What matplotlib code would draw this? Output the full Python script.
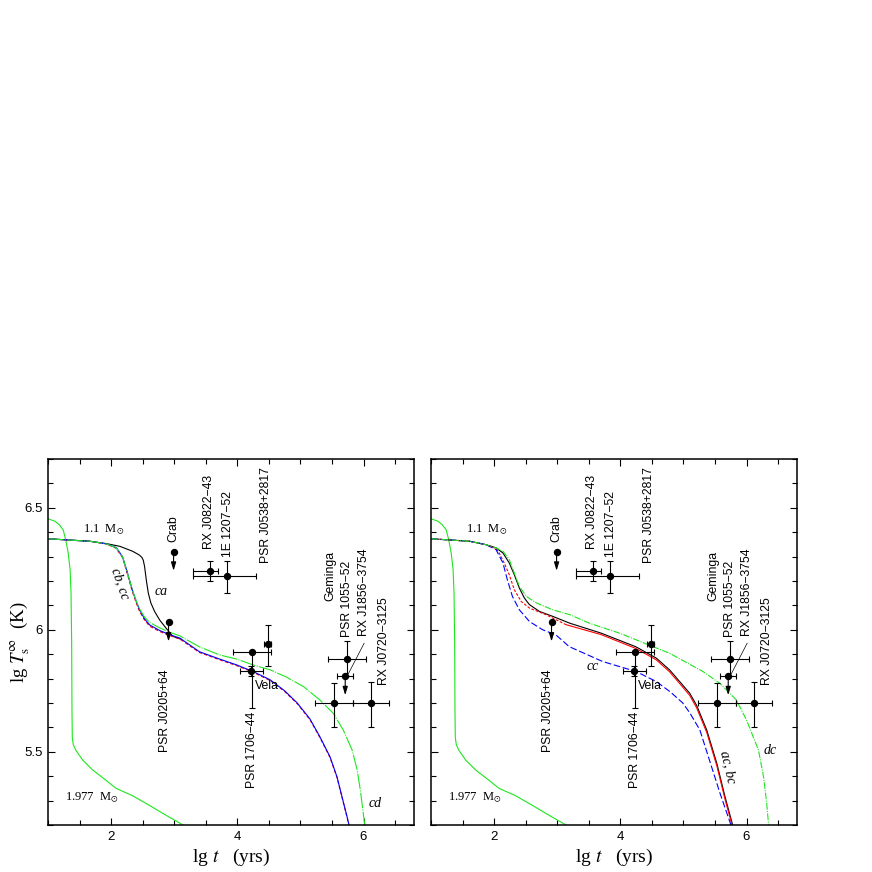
#!/usr/bin/env python3
"""Neutron star cooling curves vs observed sources, two panels."""

import matplotlib

matplotlib.use("Agg")
import matplotlib.pyplot as plt
from matplotlib.ticker import FixedLocator, MultipleLocator

plt.rcParams["font.family"] = ["Liberation Sans", "DejaVu Sans"]
plt.rcParams["mathtext.fontset"] = "stix"

# observed sources (lg t in yr, lg Ts in K)
src_names = ["PSR J0205+64", "Crab", "RX J0822\u221243", "1E 1207\u221252",
             "PSR J0538+2817", "PSR 1706\u221244", "Vela", "Geminga",
             "PSR 1055\u221252", "RX J1856\u22123754", "RX J0720\u22123125"]
src_lgt = [2.91, 2.99, 3.56, 3.84, 4.48, 4.24, 4.22, 5.53, 5.74, 5.71, 6.12]
src_lgT = [6.03, 6.32, 6.24, 6.22, 5.94, 5.91, 5.83, 5.70, 5.88, 5.81, 5.70]
src_t_lo = [0.0, 0.0, 0.27, 0.54, 0.05, 0.31, 0.18, 0.30, 0.30, 0.13, 0.29]
src_t_hi = [0.0, 0.0, 0.13, 0.46, 0.05, 0.30, 0.18, 0.30, 0.30, 0.12, 0.29]
src_T_lo = [0.0, 0.0, 0.04, 0.07, 0.09, 0.23, 0.02, 0.10, 0.07, 0.0, 0.10]
src_T_hi = [0.0, 0.0, 0.04, 0.06, 0.08, 0.0, 0.02, 0.08, 0.075, 0.0, 0.085]
src_upper = [True, True, False, False, False, False, False, False, False, True, False]

# 1.977 Msun model (same in both panels)
heavy_lgt = [1.0, 1.11, 1.18, 1.24, 1.28, 1.32, 1.35, 1.365, 1.375, 1.38,
             1.385, 1.40, 1.44, 1.55, 1.71, 1.92, 2.08, 2.34, 2.61, 2.87,
             3.14, 3.3]
heavy_lgT = [6.455, 6.445, 6.43, 6.41, 6.37, 6.315, 6.247, 6.15, 5.946, 5.67,
             5.56, 5.53, 5.507, 5.466, 5.425, 5.383, 5.35, 5.32, 5.28, 5.24,
             5.20, 5.175]

# left panel, 1.1 Msun models
ca_lgt = [1.0, 1.39, 1.66, 1.95, 2.14, 2.34, 2.45, 2.49, 2.51, 2.53, 2.56,
          2.59, 2.63, 2.69, 2.77, 2.87, 2.98, 3.1]
ca_lgT = [6.373, 6.367, 6.363, 6.352, 6.342, 6.322, 6.306, 6.296, 6.285,
          6.26, 6.20, 6.15, 6.11, 6.075, 6.04, 6.007, 5.973, 5.962]

cb_lgt = [1.0, 1.39, 1.66, 1.92, 2.08, 2.18, 2.24, 2.29, 2.34, 2.40, 2.45,
          2.53, 2.61, 2.77, 2.93, 3.09, 3.40, 3.72, 3.99, 4.25, 4.52, 4.75,
          4.95, 5.15, 5.31, 5.47, 5.58, 5.66, 5.74, 5.77]
cb_lgT = [6.373, 6.367, 6.363, 6.353, 6.337, 6.30, 6.25, 6.205, 6.16, 6.115,
          6.082, 6.045, 6.02, 5.997, 5.98, 5.966, 5.91, 5.88, 5.856, 5.829,
          5.795, 5.75, 5.70, 5.635, 5.561, 5.479, 5.397, 5.315, 5.233, 5.2]
cc_left_lgT = [6.373, 6.367, 6.363, 6.352, 6.334, 6.296, 6.245, 6.199, 6.154,
               6.109, 6.076, 6.040, 6.015, 5.993, 5.976, 5.962, 5.907, 5.877,
               5.853, 5.826, 5.792, 5.747, 5.697, 5.632, 5.558, 5.476, 5.394,
               5.312, 5.230, 5.197]

cd_lgt = [1.0, 1.39, 1.66, 1.92, 2.08, 2.18, 2.24, 2.29, 2.34, 2.40, 2.45,
          2.53, 2.61, 2.77, 2.93, 3.09, 3.40, 3.72, 3.99, 4.25, 4.52, 4.78,
          5.05, 5.31, 5.52, 5.68, 5.82, 5.90, 5.95, 5.99, 6.02]
cd_lgT = [6.373, 6.367, 6.363, 6.353, 6.337, 6.30, 6.25, 6.205, 6.16, 6.117,
          6.086, 6.052, 6.03, 6.008, 5.99, 5.975, 5.93, 5.897, 5.88, 5.856,
          5.836, 5.806, 5.767, 5.712, 5.658, 5.589, 5.507, 5.425, 5.342, 5.26,
          5.2]

# right panel models
ac_lgt = [1.0, 1.61, 1.87, 2.03, 2.14, 2.24, 2.32, 2.40, 2.48, 2.56, 2.72,
          2.93, 3.20, 3.70, 4.25, 4.57, 4.78, 4.94, 5.10, 5.21, 5.37, 5.53,
          5.66, 5.78]
ac_lgT = [6.373, 6.363, 6.349, 6.336, 6.315, 6.274, 6.226, 6.171, 6.13,
          6.103, 6.075, 6.055, 6.027, 5.986, 5.93, 5.884, 5.836, 5.788, 5.74,
          5.69, 5.589, 5.452, 5.315, 5.2]

bc_lgt = [1.0, 1.61, 1.87, 2.03, 2.08, 2.16, 2.24, 2.32, 2.43, 2.56, 2.82,
          3.14, 3.70, 4.25, 4.57, 4.78, 4.94, 5.10, 5.21, 5.37, 5.53, 5.66,
          5.77]
bc_lgT = [6.373, 6.363, 6.349, 6.333, 6.315, 6.274, 6.226, 6.164, 6.116,
          6.089, 6.062, 6.021, 5.980, 5.923, 5.877, 5.828, 5.780, 5.731,
          5.680, 5.579, 5.442, 5.305, 5.2]

cc_lgt = [1.0, 1.61, 1.87, 2.03, 2.14, 2.21, 2.29, 2.40, 2.56, 2.77, 2.98,
          3.19, 3.72, 4.25, 4.57, 4.79, 4.99, 5.10, 5.26, 5.42, 5.58, 5.74,
          5.76]
cc_lgT = [6.373, 6.363, 6.349, 6.329, 6.274, 6.205, 6.137, 6.082, 6.034,
          6.0, 5.979, 5.931, 5.87, 5.829, 5.788, 5.746, 5.70, 5.66, 5.59, 5.46,
          5.33, 5.21, 5.19]

dc_lgt = [1.0, 1.61, 1.87, 2.03, 2.14, 2.24, 2.32, 2.40, 2.51, 2.67, 2.93,
          3.20, 3.51, 3.99, 4.25, 4.78, 5.31, 5.58, 5.84, 6.0, 6.19, 6.27,
          6.32, 6.35]
dc_lgT = [6.373, 6.363, 6.349, 6.336, 6.322, 6.288, 6.233, 6.178, 6.137,
          6.11, 6.082, 6.062, 6.027, 5.986, 5.959, 5.904, 5.829, 5.78, 5.712,
          5.63, 5.507, 5.397, 5.288, 5.2]

GREEN = "#1ee61e"
LW = 0.8
SERIF = ["Liberation Serif", "DejaVu Serif"]


def setup_axes(ax, ylabels=True):
    ax.set_xlim(1.0, 6.8)
    ax.set_ylim(5.2, 6.7)
    ax.xaxis.set_major_locator(FixedLocator([2, 4, 6]))
    ax.xaxis.set_minor_locator(MultipleLocator(0.5))
    ax.yaxis.set_major_locator(FixedLocator([5.5, 6.0, 6.5]))
    ax.yaxis.set_minor_locator(MultipleLocator(0.1))
    ax.set_xticklabels(["2", "4", "6"])
    if ylabels:
        ax.set_yticklabels(["5.5", "6", "6.5"])
    else:
        ax.set_yticklabels([])
    ax.tick_params(which="both", direction="in", top=True, right=True,
                   labelsize=9.5, width=0.8, pad=4)
    ax.tick_params(which="major", length=5)
    ax.tick_params(which="minor", length=3.3)
    for sp in ax.spines.values():
        sp.set_linewidth(1.1)


def draw_sources(ax):
    for i in range(len(src_names)):
        x, y = src_lgt[i], src_lgT[i]
        if src_t_lo[i] > 0:
            ax.errorbar([x], [y], xerr=[[src_t_lo[i]], [src_t_hi[i]]], fmt="none",
                        ecolor="k", elinewidth=0.8, capsize=2.2, capthick=0.8,
                        zorder=6)
        if src_T_lo[i] > 0 or src_T_hi[i] > 0:
            ax.errorbar([x], [y], yerr=[[src_T_lo[i]], [src_T_hi[i]]], fmt="none",
                        ecolor="k", elinewidth=0.8, capsize=2.2, capthick=0.8,
                        zorder=6)
        if src_upper[i]:
            ax.annotate("", xy=(x, y - 0.078), xytext=(x, y),
                        arrowprops=dict(arrowstyle="-|>,head_length=0.5,head_width=0.15",
                                        color="k", lw=0.8, shrinkA=0, shrinkB=0),
                        zorder=6)
    ax.plot(src_lgt, src_lgT, "o", color="k", markersize=4.3, zorder=7)

    # source names
    rot_labels = [
        ("Crab", 2.98, 6.36), ("RX J0822\u221243", 3.55, 6.33),
        ("1E 1207\u221252", 3.85, 6.30), ("PSR J0538+2817", 4.45, 6.275),
        ("Geminga", 5.47, 6.12), ("PSR 1055\u221252", 5.74, 5.97),
        ("RX J1856\u22123754", 6.0, 5.975), ("RX J0720\u22123125", 6.32, 5.775),
        ("PSR J0205+64", 2.86, 5.50), ("PSR 1706\u221244", 4.235, 5.35),
    ]
    for name, x, y in rot_labels:
        ax.text(x, y, name, rotation=90, ha="center", va="bottom", fontsize=8.8)
    ax.text(4.28, 5.77, "Vela", ha="left", va="center", fontsize=8.8)
    ax.plot([6.01, 5.76], [5.945, 5.82], color="k", lw=0.5)

    ax.text(1.88, 6.41, r"1.1  M$_{\odot}$", ha="center", va="center",
            fontsize=9, family=SERIF)
    ax.text(1.69, 5.31, r"1.977  M$_{\odot}$", ha="center", va="center",
            fontsize=9, family=SERIF)


fig = plt.figure(figsize=(8.72, 8.72), dpi=100)
ax_l = fig.add_axes([48 / 872, 47 / 872, 366 / 872, 366 / 872])
ax_r = fig.add_axes([431 / 872, 47 / 872, 366 / 872, 366 / 872])

# left panel
setup_axes(ax_l, ylabels=True)
ax_l.plot(heavy_lgt, heavy_lgT, color=GREEN, lw=LW)
ax_l.plot(ca_lgt, ca_lgT, color="k", lw=LW)
ax_l.plot(cb_lgt, cc_left_lgT, color="red", lw=LW, dashes=(3, 2))
ax_l.plot(cb_lgt, cb_lgT, color="blue", lw=LW)
ax_l.plot(cd_lgt, cd_lgT, color=GREEN, lw=LW, dashes=(14, 1.2, 1, 1.2))
draw_sources(ax_l)
ax_l.text(2.79, 6.157, "ca", ha="center", va="center", fontsize=10,
          style="italic", family=SERIF)
ax_l.text(2.15, 6.19, "cb, cc", ha="center", va="center", fontsize=10,
          style="italic", family=SERIF, rotation=-71)
ax_l.text(6.19, 5.29, "cd", ha="center", va="center", fontsize=10,
          style="italic", family=SERIF)

# right panel
setup_axes(ax_r, ylabels=False)
ax_r.plot(heavy_lgt, heavy_lgT, color=GREEN, lw=LW)
early = [t <= 3.2 for t in bc_lgt]
n_early = sum(early)
ax_r.plot(ac_lgt, ac_lgT, color="k", lw=LW)
ax_r.plot(bc_lgt[:n_early], bc_lgT[:n_early], color="red", lw=LW, dashes=(2.5, 1.5))
ax_r.plot(bc_lgt[n_early - 1:], bc_lgT[n_early - 1:], color="red", lw=LW)
ax_r.plot(cc_lgt, cc_lgT, color="blue", lw=LW, dashes=(6, 2.4))
ax_r.plot(dc_lgt, dc_lgT, color=GREEN, lw=LW, dashes=(6, 1.2, 1, 1.2))
draw_sources(ax_r)
ax_r.text(3.57, 5.85, "cc", ha="center", va="center", fontsize=10,
          style="italic", family=SERIF)
ax_r.text(5.70, 5.436, "ac, bc", ha="center", va="center", fontsize=10,
          style="italic", family=SERIF, rotation=-77)
ax_r.text(6.37, 5.507, "dc", ha="center", va="center", fontsize=10,
          style="italic", family=SERIF)

# axis titles
fig.text(20 / 872, 1 - 642 / 872, r"lg $T^{\infty}_{\rm s}$  (K)", rotation=90,
         ha="center", va="center", fontsize=13.5, family=SERIF)
fig.text(231 / 872, 1 - 857 / 872, r"lg $t$   (yrs)", ha="center", va="center",
         fontsize=14, family=SERIF)
fig.text(614 / 872, 1 - 857 / 872, r"lg $t$   (yrs)", ha="center", va="center",
         fontsize=14, family=SERIF)

fig.savefig("out.png", dpi=100)
